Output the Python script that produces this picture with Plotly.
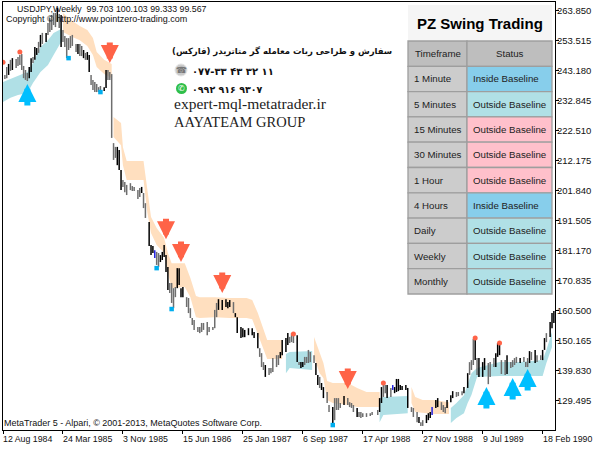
import plotly.graph_objects as go

# weekly bars (week number counted from 12 Aug 1984)
bar_week = [1,2,3,4,5,7,8,9,10,11, 12,13,14,15,16,17,18,19,20,21, 23,24,25,26,27,28,29,30,31,32,
    33,34,35,36,37,39,40,41,42,43, 44,45,46,47,48,49,50,51,52,54, 55,56,57,58,59,60,61,62,63,64,
    65,66,68,69,70,72,73,74,75,76, 78,79,80,81,82,83,84,85,86,87, 88,89,90,91,92,93,94,95,96,98,
    99,100,101,102,104,105,106,107,109,110, 112,113,114,115,117,119,120,121,123,124,
    125,127,128,129,131,133,134,136,137,138, 139,140,142,143,144,146,147,148,149,151,
    152,153,154,155,157,158,159,160,161,162, 163,164,166,167,168,169,170,171,173,174,
    176,177,178,179,180,182,184,185,186,187, 189,190,191,192,194,196,197,200,201,202,
    203,204,205,207,208,209,210,211,212,213, 215,216,218,219,221,222,223,224,226,227,
    228,229,231,232,234,235,236,237,239,240, 242,243,245,246,248,249,250,251,252,253,
    254,256,257,259,260,262,263,264,265,266, 268,269,271,272,273,274,276,278,279,280,
    281,282,284,285,287,288,289,290,292,293, 294]
bar_high = [241.8,244.5,245.6,247.0,247.6,247.3,248.0,248.7,249.0,244.9,
    243.5,242.5,244.5,247.6,248.0,251.4,251.1,253.2,255.6,256.3,
    256.3,259.7,261.4,262.5,263.2,263.2,264.9,262.8,262.5,257.3,
    255.2,254.5,254.5,255.2,255.6,252.5,252.5,252.5,251.8,250.4,
    249.4,249.7,248.7,241.8,240.1,239.4,238.7,237.6,238.0,237.6,
    243.5,243.5,242.8,242.1,218.3,217.0,217.0,215.9,209.0,205.6,
    204.9,203.9,204.5,203.5,203.2,202.1,202.8,203.2,201.1,197.6,
    191.1,183.2,182.8,181.4,180.8,180.4,179.7,180.8,183.2,179.7,
    175.6,170.1,170.1,168.3,168.7,175.2,175.2,168.3,168.7,165.2,
    164.9,161.4,158.0,157.3,154.9,154.9,156.3,156.3,156.6,154.9,
    154.9,160.8,163.2,164.5,164.2,164.5,163.5,164.2,163.5,159.7,
    158.3,154.9,154.5,153.9,154.5,154.5,153.2,152.8,147.6,145.9,
    142.8,141.8,140.8,140.8,144.2,145.2,145.2,146.3,150.4,151.1,
    152.8,151.5,152.8,152.1,152.1,142.8,142.8,142.8,144.6,144.6,
    147.0,146.3,145.2,142.5,138.4,137.7,135.6,134.2,132.5,128.0,
    127.3,130.4,130.4,130.4,128.7,131.1,130.4,129.0,128.7,128.0,
    127.0,125.6,125.6,125.2,125.2,125.2,125.6,126.3,130.4,134.2,
    134.9,134.9,134.9,133.9,134.9,134.2,137.0,137.0,134.9,134.6,
    134.9,133.9,127.3,127.0,125.6,123.9,122.1,122.8,124.6,125.2,
    125.6,127.3,129.7,130.4,129.0,128.0,127.3,129.7,131.4,132.8,
    132.5,132.5,132.8,134.2,139.0,142.8,143.5,150.8,151.1,144.2,
    144.2,142.8,144.2,142.5,142.8,144.2,145.9,149.4,149.7,143.5,
    143.5,145.2,142.8,143.5,144.2,144.6,144.2,144.6,142.8,144.2,
    146.6,146.3,147.0,145.2,145.2,147.0,151.1,152.8,156.6,159.7,
    160.4]
bar_low = [240.4,240.7,241.8,243.2,243.5,244.2,244.9,245.2,243.5,240.7,
    240.1,239.7,240.7,242.8,245.9,247.0,248.7,249.4,251.4,252.5,
    253.2,255.6,256.6,257.3,259.0,258.3,260.1,258.0,251.4,253.2,
    251.4,247.6,250.4,251.1,251.8,249.7,249.0,248.3,248.3,247.6,
    247.0,247.0,242.8,238.3,236.6,235.9,235.9,235.9,235.9,236.3,
    237.3,240.1,240.1,220.1,212.5,213.2,210.7,209.0,202.1,203.2,
    201.4,200.4,202.1,201.8,201.8,199.0,199.7,201.1,195.9,192.5,
    182.8,179.7,180.4,178.7,176.3,175.6,177.3,178.0,179.0,173.9,
    167.7,166.6,163.2,161.4,165.2,168.3,169.4,165.2,165.2,161.8,
    159.7,158.0,155.6,153.9,153.2,152.8,153.2,153.9,152.1,153.2,
    153.9,154.5,158.3,160.8,160.8,161.8,161.4,161.8,159.7,158.3,
    152.8,151.1,151.4,151.4,152.1,152.1,151.1,147.6,144.6,141.1,
    140.1,137.7,138.4,139.0,139.4,141.1,141.8,144.2,145.2,146.3,
    148.7,149.4,149.7,149.4,142.8,141.8,140.8,141.1,141.8,142.5,
    142.5,142.8,142.5,138.4,134.9,133.9,133.2,130.4,128.7,125.6,
    120.8,122.8,126.3,126.3,127.0,128.0,128.0,127.3,127.0,125.6,
    123.9,123.9,123.5,123.9,123.9,124.2,124.6,124.6,125.6,128.7,
    130.8,132.1,130.4,130.8,133.2,132.1,132.5,132.8,133.2,133.2,
    133.2,127.0,125.6,123.9,122.1,121.8,120.8,120.8,121.8,122.8,
    123.5,124.6,127.0,127.3,126.3,125.6,125.2,127.0,129.0,130.4,
    130.8,131.1,131.4,132.1,133.9,138.4,140.1,141.8,143.5,138.4,
    137.7,137.7,140.1,135.2,137.7,141.1,141.1,144.6,145.2,138.7,
    138.4,138.7,140.8,141.1,141.8,142.5,142.5,142.8,141.1,141.1,
    142.5,143.5,142.5,142.8,143.5,143.5,147.0,149.7,151.5,154.5,
    156.3]
# 0 black, 1 grey, 2 blue
bar_kind = [1,1,0,1,0,1,1,1,1,1, 1,1,0,0,1,0,0,1,0,1, 0,1,1,1,1,1,0,1,0,1,
    1,1,1,1,1,1,0,1,1,0, 1,0,0,1,1,1,1,1,1,0, 0,1,1,1,1,1,0,0,0,1,
    1,1,1,1,1,1,1,0,1,1, 0,0,0,2,1,1,0,0,0,0, 0,1,1,1,1,0,0,0,0,1,
    1,1,1,1,1,1,1,1,1,1, 1,1,1,0,0,0,0,0,1,0, 0,0,0,0,0,0,0,0,1,1,
    1,0,1,1,1,1,1,0,0,0, 0,1,1,1,0,1,0,0,1,1, 1,1,1,0,0,1,0,0,1,1,
    0,1,1,1,1,0,1,1,1,1, 0,1,1,1,1,1,1,1,0,0, 1,1,0,1,2,0,0,0,0,0,
    0,0,1,1,1,0,1,1,0,0, 0,2,0,0,1,1,1,0,0,0, 1,1,1,0,0,1,1,1,0,1,
    0,0,0,1,1,1,0,0,0,1, 1,0,1,1,1,1,0,1,1,1, 0,1,0,1,1,0,0,1,0,0, 0]

# baseline band, one id per continuous piece
band_seg = [0]*9 + [1]*8 + [2]*22 + [3]*3 + [4]*9 + [5]*3 + [6]*5 + [7]*11
band_state = ["up", "down", "down", "up", "down", "up", "down", "up"]
band_week = [0,4,8,13,16,20,24,27,31,
    32,37,41,45,48,50,54,58,
    59,63,64,66,75,77,79,82,86,88,90,97,100,103,105,113,121,130,133,136,141,149,
    151,153,165,
    166,169,171,173,176,184,189,194,201,
    201,203,216,
    218,220,224,230,238,
    239,242,246,248,250,253,265,276,288,290,293]
band_upper = [239.4,240.4,241.4,242.8,245.9,251.4,253.8,256.3,257.6,
    263.2,260.4,258.7,257.3,254.5,249.7,247.0,245.6,
    227.3,225.2,216.9,212.1,212.1,202.1,192.8,189.0,185.6,180.4,176.9,176.9,171.8,165.6,165.2,165.2,164.9,164.9,164.2,159.7,150.4,150.4,
    145.6,146.3,146.6,
    151.5,145.9,142.5,136.3,135.6,135.6,133.9,132.5,132.5,
    130.4,130.8,131.1,
    134.2,130.8,129.7,129.7,129.0,
    127.0,128.7,131.4,135.6,139.0,140.8,142.8,142.8,143.5,147.0,153.2]
band_lower = [232.5,233.9,234.9,235.6,239.0,242.8,245.2,248.7,253.2,
    256.6,254.9,253.8,251.8,248.7,244.5,242.1,240.7,
    220.4,217.6,210.7,205.6,205.6,194.5,187.3,183.2,180.4,173.5,168.3,168.7,165.2,158.3,158.0,158.3,158.0,158.0,157.6,152.8,143.9,143.9,
    139.0,140.8,140.1,
    144.6,139.0,137.3,129.7,128.7,128.0,127.3,127.3,127.3,
    122.1,124.6,125.2,
    128.7,125.6,125.2,124.9,124.9,
    121.8,123.5,125.2,128.7,131.5,137.7,138.0,138.0,138.0,142.5,148.0]

# swing dots
high_dot_week = [0,9,155,203,252,265]
high_dot_price = [246.2,249.7,152.5,135.6,151.1,149.4]
low_dot_week = [35,52,82,90,176]
low_dot_price = [247.6,235.9,175.2,161.1,121.1]

# signal arrows, tip position
sell_week = [57,87,95,117,184]
sell_price = [245.9,185.2,177.3,166.6,133.5]
buy_week = [13,258,272,280]
buy_price = [238.7,134.2,137.3,140.4]

x_tick_week = [0,32,64,96,128,160,192,224,256,288]
x_tick_label = ["12 Aug 1984","24 Mar 1985","3 Nov 1985","15 Jun 1986","25 Jan 1987",
                "6 Sep 1987","17 Apr 1988","27 Nov 1988","9 Jul 1989","18 Feb 1990"]
y_ticks = [263.850,253.515,243.180,232.845,222.510,212.175,201.840,191.505,181.170,
           170.835,160.500,150.165,139.830,129.495]

timeframes = ["1 Minute","5 Minutes","15 Minutes","30 Minutes","1 Hour","4 Hours","Daily","Weekly","Monthly"]
statuses = ["Inside Baseline","Outside Baseline","Outside Baseline","Outside Baseline","Outside Baseline",
            "Inside Baseline","Outside Baseline","Outside Baseline","Outside Baseline"]
status_colors = ["#87CEEB","#B0E0E6","#FFC0CB","#FFC0CB","#FFC0CB","#87CEEB","#B0E0E6","#B0E0E6","#B0E0E6"]

W, H = 600, 450
L, R, T, B = 3, 555, 2, 430
UI_FONT = "Liberation Sans"

def px_x(x):
    return (x - L) / (R - L)

def px_y(y):
    return (B - y) / (B - T)

fig = go.Figure()

band_colors = {"up": "#B0E0E6", "down": "#FFDFBF"}
for seg, state in enumerate(band_state):
    idx = [i for i, s in enumerate(band_seg) if s == seg]
    xs = [band_week[i] for i in idx]
    up = [band_upper[i] for i in idx]
    lo = [band_lower[i] for i in idx]
    fig.add_trace(go.Scatter(x=xs + xs[::-1], y=up + lo[::-1], mode="lines", fill="toself",
                             fillcolor=band_colors[state], line=dict(width=0), hoverinfo="skip"))

# one line trace per bar colour, high to low with a gap between bars
kind_colors = {0: "#000000", 1: "#6e6e6e", 2: "#2020e0"}
for kind, color in kind_colors.items():
    xs, ys = [], []
    for wk, hi, lo, k in zip(bar_week, bar_high, bar_low, bar_kind):
        if k == kind:
            xs += [wk, wk, None]
            ys += [lo, hi, None]
    fig.add_trace(go.Scatter(x=xs, y=ys, mode="lines", line=dict(color=color, width=1.5), hoverinfo="skip"))

fig.add_trace(go.Scatter(x=high_dot_week, y=high_dot_price, mode="markers",
                         marker=dict(symbol="circle", size=5, color="#FF6347")))
fig.add_trace(go.Scatter(x=low_dot_week, y=low_dot_price, mode="markers",
                         marker=dict(symbol="square", size=4.5, color="#00AEEF")))

annotations = []
for wk, price in zip(sell_week, sell_price):
    annotations.append(dict(x=wk, y=price, xref="x", yref="y", ax=0, ay=-22, text="", showarrow=True,
                            arrowhead=2, arrowsize=0.6, arrowwidth=6, arrowcolor="#FF6347"))
for wk, price in zip(buy_week, buy_price):
    annotations.append(dict(x=wk, y=price, xref="x", yref="y", ax=0, ay=23, text="", showarrow=True,
                            arrowhead=2, arrowsize=0.6, arrowwidth=6, arrowcolor="#00BFFF"))

for wk, label in zip(x_tick_week, x_tick_label):
    annotations.append(dict(x=wk, y=px_y(439), xref="x", yref="paper", text=label, showarrow=False, xshift=-2,
                            xanchor="left", yanchor="middle", font=dict(family=UI_FONT, size=8.8, color="#111")))

def add_text(x, y, text, anchor="left", size=9, family=UI_FONT, color="#111"):
    # annotation padding pushes left-anchored text about 2px to the right
    if anchor == "left":
        x -= 2
    annotations.append(dict(x=px_x(x), y=px_y(y), xref="paper", yref="paper", text=text, showarrow=False,
                            xanchor=anchor, yanchor="middle", font=dict(family=family, size=size, color=color)))

add_text(17, 9, "USDJPY,Weekly  99.703 100.103 99.333 99.567", size=8.8)
add_text(6, 19, "Copyright © http://www.pointzero-trading.com")
add_text(4, 423, "MetaTrader 5 - Alpari, © 2001-2013, MetaQuotes Software Corp.")

add_text(394, 51, "<b>سفارش و طراحی ربات معامله گر متاتریدر (فارکس)</b>", anchor="right", size=8.5, family="DejaVu Sans")
add_text(192, 71, "<b>۰۷۷-۳۳ ۴۳ ۳۲ ۱۱</b>", size=10, family="DejaVu Sans")
add_text(192, 89, "<b>۰۹۹۲ ۹۱۶ ۹۳۰۷</b>", size=9.5, family="DejaVu Sans")
add_text(174, 104, "expert-mql-metatrader.ir", size=15.5, family="Liberation Serif", color="#222")
add_text(174, 122, "AAYATEAM GROUP", size=14.5, family="Liberation Serif", color="#222")

shapes = [
    dict(type="circle", xref="paper", yref="paper", x0=px_x(175), x1=px_x(187), y0=px_y(76), y1=px_y(64),
         fillcolor="#C9C9C9", line=dict(color="#E4E4E4", width=1)),
    dict(type="circle", xref="paper", yref="paper", x0=px_x(176), x1=px_x(187), y0=px_y(94), y1=px_y(83),
         fillcolor="#2FBF4A", line=dict(width=0)),
    dict(type="rect", xref="paper", yref="paper", x0=px_x(408), x1=px_x(552), y0=px_y(40), y1=px_y(5),
         fillcolor="#F5F5F5", line=dict(width=0)),
]
add_text(181, 70, "☎", anchor="center", size=9, family="DejaVu Sans", color="#777")
add_text(181.5, 88.5, "✆", anchor="center", size=8, family="DejaVu Sans", color="#fff")
add_text(480, 23, "<b>PZ Swing Trading</b>", anchor="center", size=15, color="#000")

# status panel: header row then one row per timeframe
COL0, COL1, COL2 = 408, 467, 552
ROW_TOP, ROW_H = 41, 25.3

def add_cell(x0, x1, row, fill, text, centered=False):
    y0 = ROW_TOP + row * ROW_H
    shapes.append(dict(type="rect", xref="paper", yref="paper", x0=px_x(x0), x1=px_x(x1),
                       y0=px_y(y0 + ROW_H), y1=px_y(y0), fillcolor=fill, line=dict(color="#9E9E9E", width=1.3)))
    if centered:
        add_text((x0 + x1) / 2, y0 + ROW_H / 2, text, anchor="center", size=9.7, color="#222")
    else:
        add_text(x0 + 6, y0 + ROW_H / 2, text, size=9.7, color="#222")

add_cell(COL0, COL1, 0, "#BEBEBE", "Timeframe", centered=True)
add_cell(COL1, COL2, 0, "#BEBEBE", "Status", centered=True)
for row, (tf, status, color) in enumerate(zip(timeframes, statuses, status_colors), start=1):
    add_cell(COL0, COL1, row, "#CCCCCC", tf)
    add_cell(COL1, COL2, row, color, status)

fig.update_layout(
    width=W, height=H, showlegend=False,
    margin=dict(l=L, r=W - R, t=T, b=H - B),
    paper_bgcolor="white", plot_bgcolor="white",
    annotations=annotations, shapes=shapes,
    xaxis=dict(range=[0, 294.6], tickvals=x_tick_week, showticklabels=False, ticks="outside", ticklen=3,
               tickcolor="black", showgrid=False, zeroline=False, showline=True, linecolor="black", mirror=True),
    yaxis=dict(range=[119.4, 266.95], side="right", tickvals=y_ticks, ticktext=[f"{v:.3f}" for v in y_ticks],
               ticks="outside", ticklen=3, ticklabelstandoff=-4, tickcolor="black", showgrid=False, zeroline=False,
               showline=True, linecolor="black", mirror=True, tickfont=dict(family=UI_FONT, size=9.5, color="#111")),
)

fig.write_html("out.html", config=dict(displayModeBar=False), post_script="document.body.style.margin='0'")
